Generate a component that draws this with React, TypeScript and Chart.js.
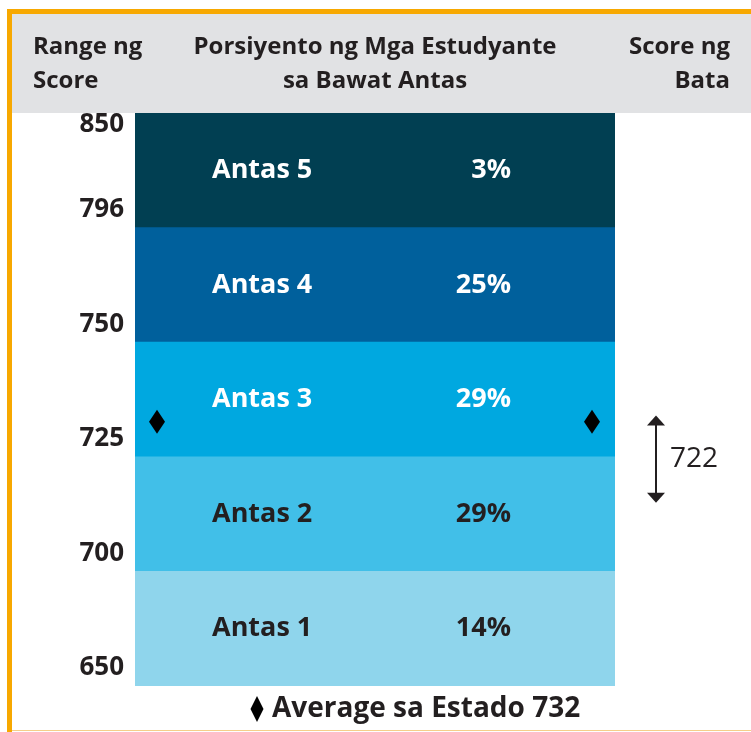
import React, { useEffect, useRef } from 'react';
import { Chart, registerables } from 'chart.js';

Chart.register(...registerables);

const levels = ['Antas 1', 'Antas 2', 'Antas 3', 'Antas 4', 'Antas 5'];
const percents = [14, 29, 29, 25, 3];
const cutScores = [650, 700, 725, 750, 796, 850];
const bandColors = ['#8fd5ec', '#41bfe8', '#00a8e0', '#00609c', '#013f52'];
const textColors = ['#231f20', '#231f20', '#ffffff', '#ffffff', '#ffffff'];
const stateAverage = 732;
const childScore = 722;
const childRange = [715, 734];
const headerLeft = ['Range ng', 'Score'];
const headerCenter = ['Porsiyento ng Mga Estudyante', 'sa Bawat Antas'];
const headerRight = ['Score ng', 'Bata'];
const legendText = 'Average sa Estado ' + stateAverage;

const FONT = '"Open Sans", "DejaVu Sans", sans-serif';
const DARK = '#231f20';

function scoreToBand(s: number): number {
  for (let i = 0; i < cutScores.length - 1; i++) {
    if (s <= cutScores[i + 1]) {
      return i + (s - cutScores[i]) / (cutScores[i + 1] - cutScores[i]);
    }
  }
  return cutScores.length - 1;
}

function diamond(ctx: CanvasRenderingContext2D, cx: number, cy: number, w: number, h: number) {
  ctx.beginPath();
  ctx.moveTo(cx, cy - h / 2);
  ctx.lineTo(cx + w / 2, cy);
  ctx.lineTo(cx, cy + h / 2);
  ctx.lineTo(cx - w / 2, cy);
  ctx.closePath();
  ctx.fillStyle = '#000';
  ctx.fill();
}

const decor = {
  id: 'decor',
  beforeDraw(chart: any) {
    const ctx: CanvasRenderingContext2D = chart.ctx;
    const W = chart.width;
    const H = chart.height;
    ctx.save();
    ctx.fillStyle = '#ffffff';
    ctx.fillRect(0, 0, W, H);
    // header band
    ctx.fillStyle = '#e1e2e4';
    ctx.fillRect(12, 14, W - 12, 99);
    // orange frame
    ctx.fillStyle = '#f7a800';
    ctx.fillRect(7, 9, W - 7, 5);
    ctx.fillRect(7, 9, 5, H - 9);
    ctx.fillStyle = '#f5cf8a';
    ctx.fillRect(12, H - 2, W - 12, 1);
    // header text
    ctx.fillStyle = DARK;
    ctx.font = `bold 24px ${FONT}`;
    ctx.textBaseline = 'alphabetic';
    const bl = [54, 88];
    ctx.textAlign = 'left';
    headerLeft.forEach((t, i) => ctx.fillText(t, 33, bl[i]));
    ctx.textAlign = 'center';
    headerCenter.forEach((t, i) => ctx.fillText(t, 375, bl[i]));
    ctx.textAlign = 'right';
    headerRight.forEach((t, i) => ctx.fillText(t, 730, bl[i]));
    ctx.restore();
  },
  afterDraw(chart: any) {
    const ctx: CanvasRenderingContext2D = chart.ctx;
    const ys = chart.scales.y;
    const area = chart.chartArea;
    ctx.save();
    // band labels
    levels.forEach((lv, i) => {
      const yc = ys.getPixelForValue(i + 0.5);
      ctx.fillStyle = textColors[i];
      ctx.font = `bold 27px ${FONT}`;
      ctx.textBaseline = 'middle';
      ctx.textAlign = 'left';
      ctx.fillText(lv, area.left + 77, yc);
      ctx.textAlign = 'right';
      ctx.fillText(percents[i] + '%', area.left + 376, yc);
    });
    // y tick labels (cut scores)
    ctx.fillStyle = DARK;
    ctx.font = `bold 26px ${FONT}`;
    ctx.textAlign = 'right';
    ctx.textBaseline = 'middle';
    cutScores.forEach((s) => {
      const py = ys.getPixelForValue(scoreToBand(s));
      ctx.fillText(String(s), area.left - 11, Math.max(py - 18, area.top + 12));
    });
    // state average diamonds
    const ay = ys.getPixelForValue(scoreToBand(stateAverage)) - 3;
    diamond(ctx, area.left + 22, ay, 16, 24);
    diamond(ctx, area.right - 23, ay, 16, 24);
    // child score arrow
    const ax = area.right + 41;
    const yTop = ys.getPixelForValue(scoreToBand(childRange[1]));
    const yBot = ys.getPixelForValue(scoreToBand(childRange[0]));
    ctx.strokeStyle = DARK;
    ctx.lineWidth = 2;
    ctx.beginPath();
    ctx.moveTo(ax, yTop + 8);
    ctx.lineTo(ax, yBot - 8);
    ctx.stroke();
    ctx.fillStyle = DARK;
    ctx.beginPath();
    ctx.moveTo(ax, yTop);
    ctx.lineTo(ax + 9, yTop + 10);
    ctx.lineTo(ax - 9, yTop + 10);
    ctx.closePath();
    ctx.fill();
    ctx.beginPath();
    ctx.moveTo(ax, yBot);
    ctx.lineTo(ax + 9, yBot - 10);
    ctx.lineTo(ax - 9, yBot - 10);
    ctx.closePath();
    ctx.fill();
    ctx.font = `28px ${FONT}`;
    ctx.textAlign = 'left';
    ctx.textBaseline = 'middle';
    ctx.fillText(String(childScore), ax + 14, (yTop + yBot) / 2);
    // legend
    const ly = area.bottom + 23;
    diamond(ctx, 257, ly, 13, 26);
    ctx.fillStyle = DARK;
    ctx.font = `bold 28px ${FONT}`;
    ctx.textAlign = 'left';
    ctx.fillText(legendText, 272, ly);
    ctx.restore();
  },
};

export default function App() {
  const ref = useRef<HTMLCanvasElement | null>(null);
  useEffect(() => {
    if (!ref.current) return;
    const chart = new Chart(ref.current, {
      type: 'bar',
      data: {
        labels: [''],
        datasets: levels.map((lv, i) => ({
          label: lv,
          data: [[scoreToBand(cutScores[i]), scoreToBand(cutScores[i + 1])]] as any,
          backgroundColor: bandColors[i],
          borderWidth: 0,
          barPercentage: 1,
          categoryPercentage: 1,
        })),
      },
      options: {
        responsive: false,
        animation: false,
        devicePixelRatio: 1,
        layout: { padding: { left: 135, right: 136, top: 113, bottom: 46 } },
        scales: {
          x: { display: false, stacked: true },
          y: { display: false, min: 0, max: levels.length },
        },
        plugins: { legend: { display: false }, tooltip: { enabled: false } },
      },
      plugins: [decor],
    });
    return () => chart.destroy();
  }, []);
  return (
    <div style={{ position: 'fixed', left: 0, top: 0, width: 751, height: 732 }}>
      <canvas ref={ref} width={751} height={732} style={{ width: 751, height: 732 }} />
    </div>
  );
}
